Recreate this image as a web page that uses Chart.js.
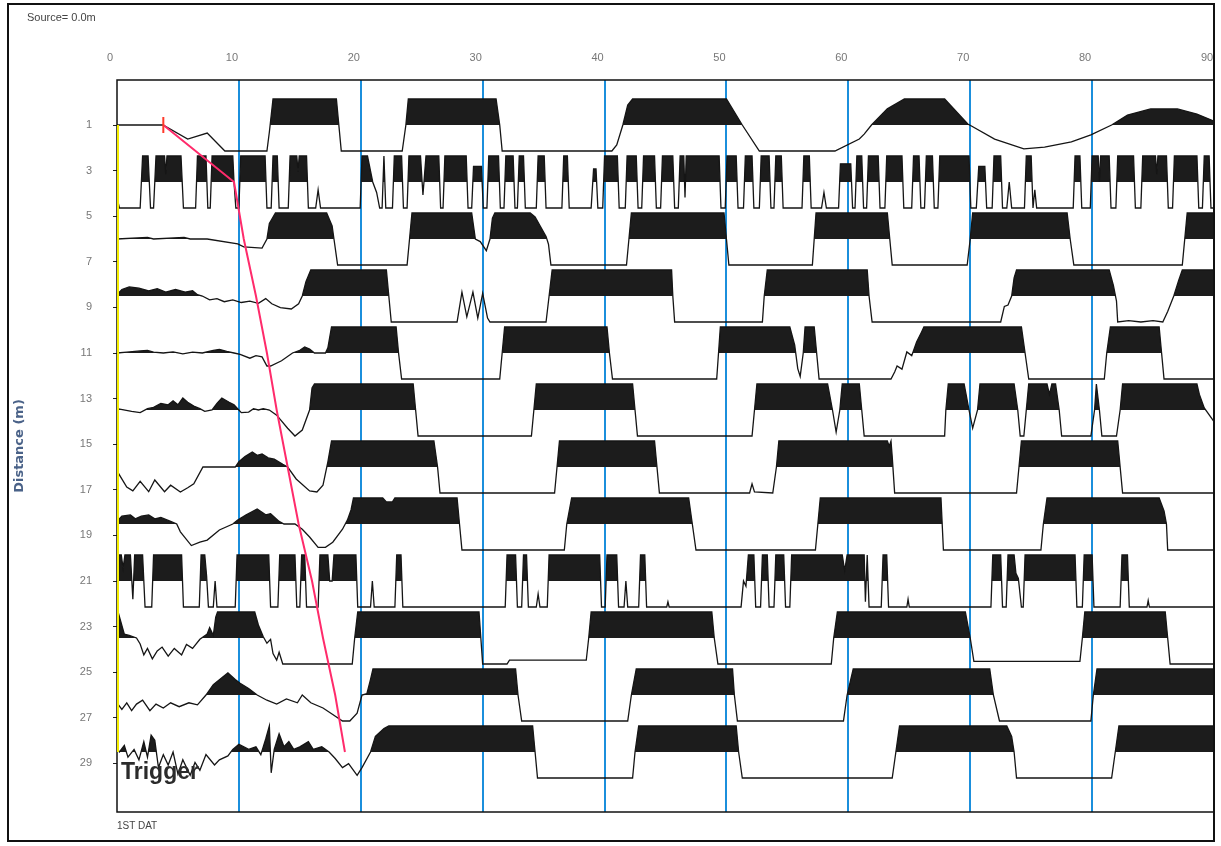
<!DOCTYPE html>
<html>
<head>
<meta charset="utf-8">
<script src="https://cdn.jsdelivr.net/npm/chart.js@4.4.0/dist/chart.umd.min.js"></script>
<style>
  body { margin: 0; background: #fff; }
  #wrap { position: relative; width: 1221px; height: 846px; }
  #chart { position: absolute; left: 0; top: 0; }
  .txt { position: absolute; font-family: "Liberation Sans", Arial, sans-serif; color: #444; white-space: nowrap; }
</style>
</head>
<body>
<div id="wrap">
  <canvas id="chart" width="1221" height="846"></canvas>
  <div class="txt" style="left:27px;top:11px;font-size:11px;">Source= 0.0m</div>
  <div class="txt" style="left:117px;top:820px;font-size:10px;">1ST DAT</div>
  <div class="txt" style="left:121px;top:760px;font-size:23px;line-height:23px;font-weight:bold;color:#2b2b2b;">Trigger</div>
</div>
<script>
// axis ticks
const timeTicks = [0, 10, 20, 30, 40, 50, 60, 70, 80, 90];
const distanceTicks = [1, 3, 5, 7, 9, 11, 13, 15, 17, 19, 21, 23, 25, 27, 29];

// geophone offsets (m) and first break picks (ms)
const traceDistances = [1, 3.5, 6, 8.5, 11, 13.5, 16, 18.5, 21, 23.5, 26, 28.5];
const firstBreaks = [3.8, 9.6, 10.4, 11.4, 12.3, 13.1, 14.0, 14.9, 16.0, 16.9, 17.9, 18.7];

// traces: time (ms), clipped amplitude (-1..1) pairs
const trace01 = [0,0, 3.77,0, 5.8,-0.54, 7.4,-0.31, 8.85,-1, 12.3,-1, 12.5,-0.27, 12.8,1, 18.0,1, 18.2,0, 18.4,-1, 23.4,-1, 23.7,0, 23.9,1, 31.1,1, 31.4,0, 31.6,-1, 40.6,-1, 41.0,-0.77, 41.5,0, 41.9,0.77, 42.3,1, 50.0,1, 51.3,0, 52.7,-1, 58.9,-1, 60.9,-0.54, 61.3,-0.35, 61.9,0, 63.2,0.62, 64.6,1, 67.9,1, 69.8,0.04, 70.1,-0.04, 72.0,-0.54, 74.4,-0.92, 76.1,-0.85, 78.3,-0.65, 79.9,-0.38, 81.6,0, 82.9,0.38, 84.8,0.62, 87.0,0.62, 88.6,0.42, 90,0.15];
const trace02 = [0,-0.6, 0.2,-1, 1.9,-1, 2.1,1, 2.55,1, 2.75,-1, 3.0,-1, 3.2,1, 3.9,1, 4.0,0.3, 4.1,1, 5.25,1, 5.45,-1, 6.45,-1, 6.6,1, 7.3,1, 7.45,-1, 7.65,-1, 7.8,1, 9.5,1, 9.6,0, 9.75,-1, 10.0,-1, 10.15,1, 12.15,1, 12.3,-1, 12.65,-1, 12.8,1, 13.15,1, 13.3,-1, 14.05,-1, 14.2,1, 14.75,1, 14.85,0.4, 14.95,1, 15.55,1, 15.7,-1, 16.3,-1, 16.5,-0.3, 16.7,-1, 19.95,-1, 20.1,1, 20.55,1, 20.98,0, 21.3,-0.4, 21.55,-1, 21.75,-1, 21.9,1, 22.05,-1, 22.6,-1, 22.75,1, 23.35,1, 23.5,-1, 23.8,-1, 23.95,1, 24.9,1, 25.1,-0.5, 25.35,1, 26.4,1, 26.55,-1, 26.75,-1, 26.9,1, 28.65,1, 28.8,-1, 29.1,-1, 29.25,0.6, 29.9,0.6, 30.05,-1, 30.35,-1, 30.5,1, 31.3,1, 31.45,-1, 31.75,-1, 31.9,1, 32.5,1, 32.65,-1, 32.85,-1, 33.0,1, 33.35,1, 33.5,-1, 34.4,-1, 34.55,1, 35.05,1, 35.2,-1, 36.5,-1, 36.65,1, 36.95,1, 37.1,-1, 38.9,-1, 39.1,0.5, 39.3,0.5, 39.45,-1, 39.85,-1, 40.0,1, 41.05,1, 41.2,-1, 41.7,-1, 41.85,1, 42.6,1, 42.75,-1, 43.05,-1, 43.2,1, 44.1,1, 44.25,-1, 44.6,-1, 44.75,1, 45.6,1, 45.75,-1, 46.05,-1, 46.2,1, 46.5,1, 46.6,-0.6, 46.7,1, 49.4,1, 49.55,-1, 49.9,-1, 50.05,1, 50.8,1, 50.95,-1, 51.4,-1, 51.55,1, 52.1,1, 52.25,-1, 52.7,-1, 52.85,1, 53.5,1, 53.65,-1, 53.9,-1, 54.05,1, 54.5,1, 54.65,-1, 56.2,-1, 56.35,1, 56.8,1, 56.95,-1, 57.8,-1, 58.0,-0.4, 58.2,-1, 59.2,-1, 59.35,0.7, 60.2,0.7, 60.35,-1, 60.55,-1, 60.7,1, 61.1,1, 61.25,-1, 61.5,-1, 61.65,1, 62.45,1, 62.6,-1, 63.0,-1, 63.15,1, 64.4,1, 64.55,-1, 65.2,-1, 65.35,1, 65.8,1, 65.95,-1, 66.25,-1, 66.4,1, 66.9,1, 67.05,-1, 67.35,-1, 67.5,1, 69.9,1, 70.05,-1, 70.5,-1, 70.7,0.6, 71.2,0.6, 71.35,-1, 71.8,-1, 71.95,1, 72.5,1, 72.65,-1, 73.0,-1, 73.2,0, 73.4,-1, 74.45,-1, 74.6,1, 75.0,1, 75.15,-1, 75.3,-0.3, 75.45,-1, 78.45,-1, 78.6,1, 79.0,1, 79.15,-1, 79.85,-1, 80.0,1, 80.5,1, 80.6,0, 80.7,1, 81.4,1, 81.55,-1, 81.95,-1, 82.1,1, 83.4,1, 83.55,-1, 84.0,-1, 84.15,1, 85.2,1, 85.3,0.3, 85.4,1, 86.1,1, 86.25,-1, 86.6,-1, 86.75,1, 88.6,1, 88.75,-1, 89.05,-1, 89.2,1, 89.6,1, 89.75,-1, 90,-1];
const trace03 = [0,0, 2.5,0.06, 3.0,0, 5.5,0.06, 6.0,0, 7.4,0, 9.9,-0.19, 10.4,-0.3, 11.9,-0.35, 12.3,0, 12.5,0.6, 13.0,1, 17.2,1, 17.65,0.5, 17.8,0, 18.1,-1, 23.8,-1, 24.0,0, 24.2,1, 29.1,1, 29.4,0, 29.8,-0.1, 30.3,-0.45, 30.6,0, 30.8,0.8, 31.0,1, 33.9,1, 34.3,0.85, 35.2,0.1, 35.4,-0.2, 35.6,-1, 41.8,-1, 42.0,0, 42.2,1, 49.8,1, 50.0,0, 50.2,-1, 57.05,-1, 57.2,0, 57.35,1, 63.2,1, 63.4,0, 63.6,-1, 69.75,-1, 70.0,0, 70.2,1, 77.95,1, 78.2,0, 78.5,-1, 87.4,-1, 87.6,0, 87.8,1, 90,1];
const trace04 = [0,0.05, 0.4,0.25, 1.0,0.35, 1.8,0.3, 2.6,0.2, 3.3,0.28, 4.0,0.15, 4.8,0.25, 5.6,0.15, 6.2,0.2, 6.6,0.05, 7.0,0, 7.6,-0.15, 8.2,-0.1, 8.8,-0.22, 9.5,-0.15, 10.2,-0.25, 10.9,-0.2, 11.6,-0.28, 12.2,-0.1, 12.7,-0.3, 13.4,-0.45, 14.3,-0.5, 14.9,-0.3, 15.2,0, 15.5,0.55, 15.9,1, 22.1,1, 22.3,0, 22.5,-1, 27.9,-1, 28.3,0.15, 28.7,-0.8, 29.2,0.15, 29.6,-0.85, 30.0,0.1, 30.4,-0.85, 30.6,-1, 35.2,-1, 35.45,0, 35.7,1, 45.5,1, 45.6,0, 45.75,-1, 52.95,-1, 53.1,0, 53.35,1, 61.55,1, 61.7,0, 61.95,-1, 72.5,-1, 72.8,-0.4, 73.1,-0.35, 73.4,0, 73.6,0.7, 73.8,1, 81.4,1, 81.75,0.4, 82.0,-0.2, 82.1,-1, 83.0,-0.95, 84.0,-1, 85.0,-0.95, 85.8,-1, 86.2,-0.6, 86.7,0, 87.1,0.6, 87.4,1, 90,1];
const trace05 = [0,0, 0.8,0.03, 1.9,0.08, 2.5,0.1, 3.0,0.03, 3.8,0, 4.6,0.04, 5.4,-0.03, 6.2,0.03, 7.0,0, 7.9,0.1, 8.4,0.14, 9.0,0.06, 9.6,0, 10.1,-0.05, 10.9,-0.2, 11.4,-0.1, 11.9,-0.15, 12.3,-0.5, 12.6,-0.5, 13.5,-0.3, 14.4,0, 15.0,0.1, 15.4,0.23, 15.8,0.15, 16.2,0, 17.1,0, 17.3,0.2, 17.6,1, 22.9,1, 23.1,0, 23.35,-1, 31.4,-1, 31.6,0, 31.8,1, 40.2,1, 40.4,0, 40.65,-1, 49.2,-1, 49.35,0, 49.5,1, 55.2,1, 55.6,0.3, 55.85,-0.6, 56.05,-0.9, 56.3,0, 56.45,1, 57.2,1, 57.4,0, 57.6,-1, 63.5,-1, 63.8,-0.73, 64.0,-0.5, 64.4,-0.62, 64.8,0.04, 65.2,-0.1, 65.6,0.42, 66.0,0.8, 66.2,1, 74.2,1, 74.5,0, 74.8,-1, 81.0,-1, 81.2,0, 81.5,1, 85.5,1, 85.7,0, 85.9,-1, 90,-1];
const trace06 = [0,0.05, 1.2,-0.05, 1.9,-0.1, 2.5,0.05, 3.0,0.1, 3.6,0.25, 4.2,0.2, 4.6,0.35, 5.0,0.2, 5.4,0.46, 5.8,0.3, 6.3,0.15, 6.8,0.05, 7.2,-0.05, 7.8,0, 8.2,0.25, 8.6,0.46, 9.2,0.3, 9.6,0.2, 9.9,0.05, 10.2,-0.1, 10.8,-0.08, 11.2,0.05, 11.6,0, 12.0,0.05, 12.5,0, 13.1,-0.2, 14.0,-0.7, 14.6,-1, 15.2,-0.77, 15.8,0, 16.0,0.85, 16.2,1, 24.3,1, 24.5,0, 24.7,-1, 34.0,-1, 34.2,0, 34.4,1, 42.3,1, 42.5,0, 42.7,-1, 52.1,-1, 52.3,0, 52.5,1, 58.3,1, 58.7,0, 59.0,-0.85, 59.3,0, 59.5,1, 60.9,1, 61.1,0, 61.3,-1, 67.9,-1, 68.0,0, 68.2,1, 69.5,1, 69.9,0, 70.2,-0.7, 70.6,0, 70.8,1, 73.6,1, 73.9,0, 74.1,-1, 74.4,-1, 74.6,0, 74.8,1, 76.3,1, 76.5,0.6, 76.7,1, 77.0,1, 77.3,0, 77.5,-1, 79.9,-1, 80.2,0, 80.35,1, 80.6,0, 80.8,-1, 82.0,-1, 82.3,0, 82.5,1, 88.6,1, 88.8,0.6, 89.2,0.08, 90,-0.45];
const trace07 = [0,-0.15, 0.8,-0.77, 1.3,-0.92, 1.9,-0.55, 2.6,-0.95, 3.1,-0.5, 3.9,-0.95, 4.4,-0.7, 5.2,-0.96, 5.8,-0.8, 6.3,-0.65, 7.05,0, 9.7,0, 10.0,0.2, 10.5,0.4, 11.1,0.58, 11.5,0.45, 11.9,0.5, 12.4,0.35, 12.9,0.3, 13.6,0.1, 14.0,0, 14.7,-0.46, 15.8,-0.92, 16.4,-0.96, 16.9,-0.7, 17.3,0.2, 17.6,1, 26.0,1, 26.3,0, 26.5,-1, 35.9,-1, 36.1,0, 36.3,1, 44.1,1, 44.3,0, 44.5,-1, 51.9,-1, 52.1,-0.65, 52.3,-0.96, 53.8,-1, 54.1,0, 54.3,1, 63.2,1, 63.35,0.8, 63.5,1, 63.6,0.4, 63.8,-1, 73.8,-1, 74.0,0, 74.2,1, 82.1,1, 82.3,0, 82.5,-1, 90,-1];
const trace08 = [0,0.1, 0.4,0.3, 1.1,0.35, 1.5,0.2, 2.0,0.3, 2.6,0.35, 3.1,0.2, 3.6,0.25, 4.4,0.1, 4.9,0, 5.2,-0.3, 6.1,-0.83, 6.8,-0.7, 7.4,-0.62, 8.4,-0.23, 9.5,0, 9.9,0.15, 10.6,0.35, 11.5,0.58, 12.2,0.35, 12.6,0.4, 13.3,0.1, 13.7,0, 14.6,0, 15.2,-0.2, 15.8,-0.5, 16.5,-0.9, 17.1,-0.9, 17.7,-0.7, 18.5,-0.2, 18.9,0.15, 19.2,0.54, 19.4,1, 21.8,1, 22.1,0.85, 22.6,0.85, 22.8,1, 27.9,1, 28.1,0, 28.3,-1, 36.7,-1, 36.9,0, 37.3,1, 46.9,1, 47.2,0, 47.5,-1, 57.3,-1, 57.5,0, 57.7,1, 67.6,1, 67.7,0, 67.8,-1, 75.8,-1, 76.0,0, 76.3,1, 85.5,1, 85.9,0.5, 86.1,0, 86.2,-1, 90,-1];
const trace09 = [0,1, 0.35,1, 0.5,0.5, 0.65,1, 1.1,1, 1.3,-0.7, 1.45,1, 2.1,1, 2.3,-1, 2.85,-1, 3.0,1, 5.3,1, 5.45,-1, 6.75,-1, 6.9,1, 7.2,1, 7.35,0.2, 7.5,-1, 7.9,-1, 8.05,0, 8.2,-1, 9.7,-1, 9.85,1, 12.45,1, 12.6,-1, 13.2,-1, 13.35,1, 14.6,1, 14.75,-1, 15.0,-1, 15.15,1, 15.4,1, 15.55,-1, 16.5,-1, 16.65,1, 17.3,1, 17.45,0, 17.65,0, 17.8,1, 19.6,1, 19.75,-1, 20.8,-1, 20.95,0, 21.1,-1, 22.8,-1, 22.95,1, 23.3,1, 23.45,-1, 31.85,-1, 32.0,1, 32.7,1, 32.85,-1, 33.2,-1, 33.35,1, 33.6,1, 33.75,-1, 34.4,-1, 34.55,-0.5, 34.7,-1, 35.3,-1, 35.45,1, 39.6,1, 39.75,-1, 40.05,-1, 40.2,1, 41.0,1, 41.15,-1, 41.6,-1, 41.75,0, 41.9,-1, 42.8,-1, 42.95,1, 43.3,1, 43.45,-1, 45.1,-1, 45.2,-0.8, 45.3,-1, 51.2,-1, 51.4,0, 51.6,-0.2, 51.8,1, 52.25,1, 52.4,-1, 52.8,-1, 52.95,1, 53.35,1, 53.5,-1, 53.9,-1, 54.05,1, 54.7,1, 54.85,-1, 55.2,-1, 55.35,1, 59.5,1, 59.7,0.4, 59.9,1, 61.3,1, 61.4,-0.8, 61.55,1, 61.7,-1, 62.7,-1, 62.85,1, 63.15,1, 63.3,-1, 64.8,-1, 64.9,-0.7, 65.0,-1, 71.7,-1, 71.85,1, 72.5,1, 72.65,-1, 72.95,-1, 73.1,1, 73.6,1, 73.75,0.3, 73.95,0.1, 74.2,-1, 74.35,-1, 74.5,1, 78.6,1, 78.75,-1, 79.2,-1, 79.35,1, 80.0,1, 80.15,-1, 82.3,-1, 82.45,1, 82.9,1, 83.05,-1, 84.5,-1, 84.6,-0.75, 84.7,-1, 90,-1];
const trace10 = [0,0.3, 0.15,0.9, 0.6,0.15, 1.0,0.1, 1.6,0, 1.9,-0.23, 2.2,-0.65, 2.5,-0.4, 2.9,-0.8, 3.3,-0.5, 3.7,-0.35, 4.2,-0.7, 4.7,-0.4, 5.3,-0.65, 5.7,-0.25, 6.2,-0.4, 6.8,-0.05, 7.4,0.15, 7.6,0.4, 7.9,0.1, 8.1,0.8, 8.25,1, 11.3,1, 11.6,0.5, 12.0,0.05, 12.3,-0.2, 12.6,-0.05, 12.8,-0.6, 13.1,-0.85, 13.3,-0.55, 13.6,-1, 19.3,-1, 19.5,0, 19.75,1, 29.7,1, 29.85,0, 30.0,-1, 32.0,-1, 32.2,-0.85, 38.5,-0.85, 38.7,0, 38.9,1, 48.8,1, 49.0,0, 49.3,-1, 58.6,-1, 58.8,0, 59.1,1, 69.6,1, 70.0,0, 70.3,-0.9, 79.0,-0.9, 79.2,0, 79.4,1, 86.0,1, 86.2,0, 86.4,-1, 90,-1];
const trace11 = [0,-0.3, 0.4,-0.55, 0.8,-0.3, 1.2,-0.6, 1.6,-0.35, 2.1,-0.2, 2.7,-0.6, 3.2,-0.35, 3.8,-0.5, 4.4,-0.3, 5.1,-0.45, 5.9,-0.3, 6.6,-0.38, 7.3,0, 7.9,0.4, 9.1,0.85, 9.7,0.6, 10.1,0.45, 10.8,0.25, 11.5,0, 12.3,-0.2, 13.1,-0.35, 13.9,-0.15, 14.8,-0.3, 15.2,0, 15.9,-0.3, 16.9,-0.5, 17.7,-0.75, 18.5,-1, 19.1,-1, 19.7,-0.7, 20.1,0, 20.5,0.05, 20.8,0.6, 21.0,1, 32.7,1, 32.9,0, 33.2,-1, 41.9,-1, 42.2,0, 42.6,1, 50.5,1, 50.65,0, 50.9,-1, 59.6,-1, 59.9,0, 60.4,1, 71.6,1, 71.9,0, 72.4,-1, 79.9,-1, 80.1,0, 80.4,1, 90,1];
const trace12 = [0,0.1, 0.2,0, 0.6,0.25, 0.9,-0.2, 1.4,0.1, 1.8,-0.3, 2.2,0.4, 2.5,-0.2, 2.8,0.65, 3.1,0.45, 3.4,-0.6, 3.8,-0.1, 4.2,-0.5, 4.6,0, 5.0,-0.85, 5.4,-0.3, 6.0,-0.9, 6.4,-0.4, 6.8,-0.7, 7.3,-0.1, 8.0,-0.5, 8.4,-0.3, 9.1,-0.15, 9.5,0.1, 10.0,0.3, 10.8,0.1, 11.4,0.2, 11.8,-0.1, 12.2,0.5, 12.5,1, 12.65,-0.8, 12.9,0.1, 13.3,0.7, 13.7,0.2, 14.1,0.4, 14.5,0.1, 15.0,0.2, 15.7,0.4, 16.1,0.1, 16.8,0.2, 17.4,0, 17.9,-0.25, 18.5,-0.6, 19.0,-0.45, 19.7,-0.9, 20.1,-0.6, 20.8,0, 21.2,0.6, 21.9,0.9, 22.3,1, 34.1,1, 34.3,0, 34.5,-1, 42.3,-1, 42.5,0, 42.8,1, 50.8,1, 51.0,0, 51.3,-1, 63.6,-1, 63.9,0, 64.2,1, 73.0,1, 73.4,0.6, 73.6,0, 73.8,-1, 81.6,-1, 81.9,0, 82.2,1, 90,1];

const traces = [trace01, trace02, trace03, trace04, trace05, trace06,
                trace07, trace08, trace09, trace10, trace11, trace12];

// vertical scale: 22.8 px per metre, so every trace baseline lands on a whole pixel
const pxPerMetre = 22.8;
const yMin = 1 - 45 / pxPerMetre;
const yMax = yMin + 732 / pxPerMetre;
const gain = 26 / pxPerMetre; // metres of offset for one clip amplitude

function toPoints(flat, dist) {
  const pts = [];
  for (let i = 0; i < flat.length; i += 2) {
    pts.push({ x: flat[i], y: dist - flat[i + 1] * gain });
  }
  return pts;
}

const datasets = traces.map((tr, i) => ({
  data: toPoints(tr, traceDistances[i]),
  borderColor: '#151515',
  borderWidth: 1.3,
  pointRadius: 0,
  fill: { target: { value: traceDistances[i] }, above: '#1c1c1c', below: 'rgba(0,0,0,0)' },
  order: 3
}));

// yellow zero-time line
datasets.push({
  data: [{ x: 0, y: traceDistances[0] }, { x: 0, y: traceDistances[traceDistances.length - 1] }],
  borderColor: '#f4ec00',
  borderWidth: 4,
  pointRadius: 0,
  fill: false,
  order: 2
});

// first break picks
datasets.push({
  data: firstBreaks.map((t, i) => ({ x: t, y: traceDistances[i] })),
  borderColor: '#ff2b6b',
  borderWidth: 2,
  pointStyle: 'line',
  rotation: 90,
  pointRadius: ctx => ctx.dataIndex === 0 ? 8 : 0,
  pointBorderColor: '#ff3a2a',
  pointBorderWidth: 2,
  fill: false,
  order: 1
});

const framePlugin = {
  id: 'frame',
  beforeDatasetsDraw(chart) {
    const { ctx, chartArea: a } = chart;
    ctx.save();
    ctx.strokeStyle = '#111';
    ctx.lineWidth = 1.5;
    ctx.strokeRect(a.left, a.top, a.right - a.left, a.bottom - a.top);
    ctx.restore();
  },
  afterDraw(chart) {
    const { ctx } = chart;
    ctx.save();
    ctx.strokeStyle = '#111';
    ctx.lineWidth = 2;
    ctx.strokeRect(8, 4, 1206, 837);
    ctx.restore();
  }
};

new Chart(document.getElementById('chart'), {
  type: 'line',
  data: { datasets },
  plugins: [framePlugin],
  options: {
    responsive: false,
    animation: false,
    events: [],
    layout: { autoPadding: false, padding: { left: 0, top: 0, right: 7, bottom: 34 } },
    plugins: { legend: { display: false }, tooltip: { enabled: false } },
    scales: {
      x: {
        type: 'linear',
        position: 'top',
        min: 0,
        max: 90,
        z: 1,
        afterFit: s => { s.height = 80; s.paddingLeft = 0; s.paddingRight = 0; },
        afterBuildTicks: s => { s.ticks = timeTicks.map(v => ({ value: v })); },
        ticks: {
          padding: 15,
          labelOffset: -7,
          autoSkip: false,
          maxRotation: 0,
          color: '#777',
          font: { family: 'Liberation Sans', size: 11 }
        },
        grid: {
          drawTicks: false,
          lineWidth: 2,
          color: ctx => (ctx.tick && ctx.tick.value > 0 && ctx.tick.value < 90) ? '#1b8fdc' : 'rgba(0,0,0,0)'
        },
        border: { display: false }
      },
      y: {
        type: 'linear',
        reverse: true,
        min: yMin,
        max: yMax,
        afterFit: s => { s.width = 117; s.paddingTop = 0; s.paddingBottom = 0; },
        afterBuildTicks: s => { s.ticks = distanceTicks.map(v => ({ value: v })); },
        ticks: {
          padding: 21,
          autoSkip: false,
          color: '#777',
          font: { family: 'Liberation Sans', size: 11 }
        },
        grid: { drawOnChartArea: false, drawTicks: true, tickLength: 4, color: '#222' },
        border: { display: false },
        title: {
          display: true,
          text: 'Distance (m)',
          color: '#4a6288',
          font: { family: 'DejaVu Sans', size: 13, weight: 'bold' },
          padding: { top: 12, bottom: 0 }
        }
      }
    }
  }
});
</script>
</body>
</html>
